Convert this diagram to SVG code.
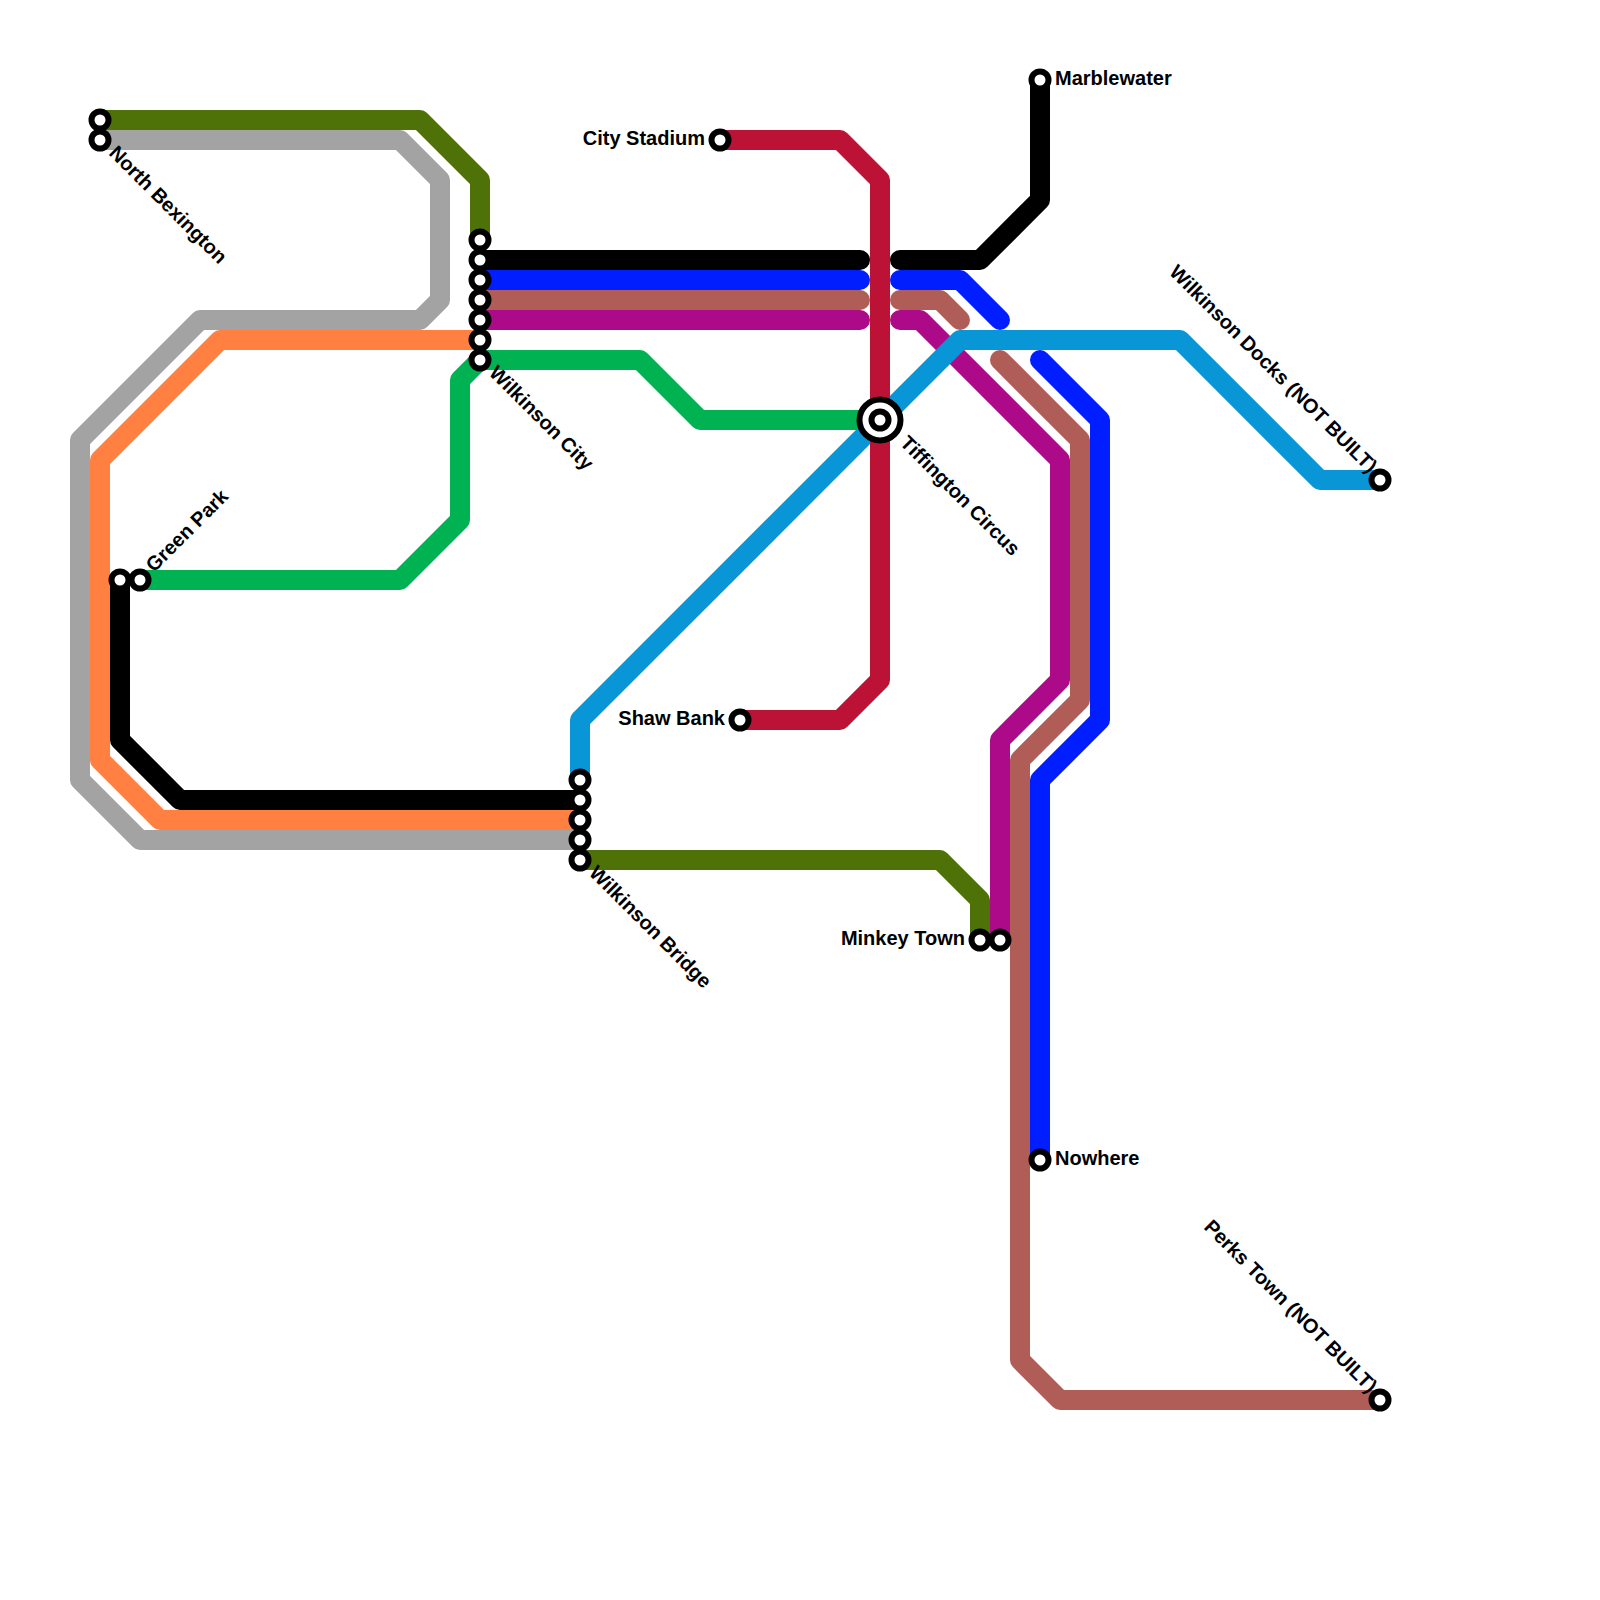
<svg xmlns="http://www.w3.org/2000/svg" width="1600" height="1600" viewBox="0 0 1600 1600">
<style>
.l{fill:none;stroke-width:20;stroke-linejoin:round;stroke-linecap:butt}
.r{stroke-linecap:round}
.s{fill:#fff;stroke:#000;stroke-width:6}
text{font-family:"Liberation Sans",Arial,sans-serif;font-weight:700;font-size:20px;fill:#000}
.dg{stroke:#4e7208}.gy{stroke:#a3a3a3}.or{stroke:#ff8040}.bk{stroke:#000}.lg{stroke:#00b251}.sk{stroke:#0896d7}.cr{stroke:#bb1236}.bl{stroke:#001eff}.br{stroke:#b15d57}.pu{stroke:#ac0a88}
</style>
<rect width="1600" height="1600" fill="#fff"/>
<g id="connectors">
<path class="l gy" d="M100 140H400L440 180V300L420 320H200L80 440V780L140 840H580"/>
<path class="l or" d="M480 340H220L100 460V760L160 820H580"/>
<path class="l dg" d="M100 120H420L480 180V240"/>
<path class="l dg" d="M580 860H940L980 900V940"/>
<path class="l bk" d="M120 580V740L180 800H580"/>
<path class="l lg" d="M140 580H400L460 520V380L480 360H640L700 420H880"/>
<path class="l pu r" d="M480 320H860M900 320H920L1060 460V680L1000 740V940"/>
<path class="l sk" d="M580 780V720L960 340H1180L1320 480H1380"/>
<path class="l cr" d="M720 140H840L880 180V680L840 720H740"/>
<path class="l bk r" d="M480 260H860M900 260H980L1040 200V80"/>
<path class="l bl r" d="M480 280H860M900 280H960L1000 320M1040 360L1100 420V720L1040 780V1160"/>
<path class="l br r" d="M480 300H860M900 300H940L960 320M1000 360L1080 440V700L1020 760V1360L1060 1400H1380"/>
</g>
<g id="north-bexington"><circle class="s" cx="100" cy="120" r="8.5"/><circle class="s" cx="100" cy="140" r="8.5"/><text transform="translate(108 154) rotate(45)">North Bexington</text></g>
<g id="wilkinson-city"><circle class="s" cx="480" cy="240" r="8.5"/><circle class="s" cx="480" cy="260" r="8.5"/><circle class="s" cx="480" cy="280" r="8.5"/><circle class="s" cx="480" cy="300" r="8.5"/><circle class="s" cx="480" cy="320" r="8.5"/><circle class="s" cx="480" cy="340" r="8.5"/><circle class="s" cx="480" cy="360" r="8.5"/><text transform="translate(488 374) rotate(45)">Wilkinson City</text></g>
<g id="green-park"><circle class="s" cx="120" cy="580" r="8.5"/><circle class="s" cx="140" cy="580" r="8.5"/><text transform="translate(154 573) rotate(-45)">Green Park</text></g>
<g id="wilkinson-bridge"><circle class="s" cx="580" cy="780" r="8.5"/><circle class="s" cx="580" cy="800" r="8.5"/><circle class="s" cx="580" cy="820" r="8.5"/><circle class="s" cx="580" cy="840" r="8.5"/><circle class="s" cx="580" cy="860" r="8.5"/><text transform="translate(588 874) rotate(45)">Wilkinson Bridge</text></g>
<g id="city-stadium"><circle class="s" cx="720" cy="140" r="8.5"/><text x="705" y="145" text-anchor="end">City Stadium</text></g>
<g id="shaw-bank"><circle class="s" cx="740" cy="720" r="8.5"/><text x="725" y="725" text-anchor="end">Shaw Bank</text></g>
<g id="tiffington-circus"><circle cx="880" cy="420" r="20.5" fill="#fff" stroke="#000" stroke-width="6"/><circle class="s" cx="880" cy="420" r="8.5"/><text transform="translate(899 444) rotate(45)">Tiffington Circus</text></g>
<g id="minkey-town"><circle class="s" cx="980" cy="940" r="8.5"/><circle class="s" cx="1000" cy="940" r="8.5"/><text x="965" y="945" text-anchor="end">Minkey Town</text></g>
<g id="marblewater"><circle class="s" cx="1040" cy="80" r="8.5"/><text x="1055" y="85">Marblewater</text></g>
<g id="nowhere"><circle class="s" cx="1040" cy="1160" r="8.5"/><text x="1055" y="1165">Nowhere</text></g>
<g id="wilkinson-docks"><circle class="s" cx="1380" cy="480" r="8.5"/><text transform="translate(1369 474) rotate(45)" text-anchor="end">Wilkinson Docks (NOT BUILT)</text></g>
<g id="perks-town"><circle class="s" cx="1380" cy="1400" r="8.5"/><text transform="translate(1369 1394) rotate(45)" text-anchor="end">Perks Town (NOT BUILT)</text></g>
</svg>
